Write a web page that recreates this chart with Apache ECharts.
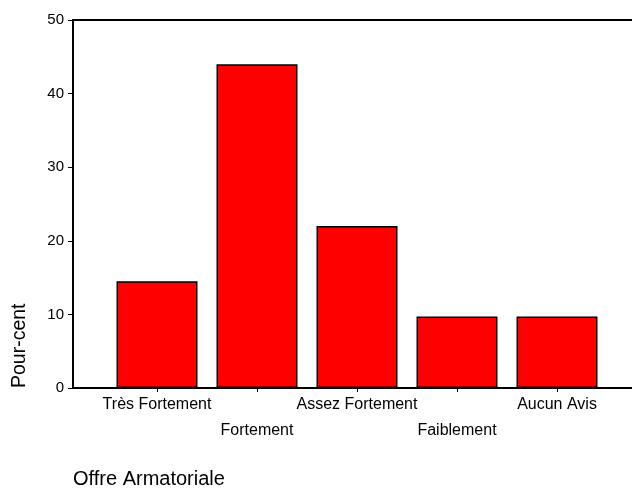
<!DOCTYPE html>
<html>
<head>
<meta charset="utf-8">
<script src="https://cdn.jsdelivr.net/npm/echarts@6/dist/echarts.min.js"></script>
<style>
  html, body { margin: 0; padding: 0; background: #fff; }
  #chart { width: 632px; height: 488px; }
</style>
</head>
<body>
<div id="chart"></div>
<script>
const categories = ['Très Fortement', 'Fortement', 'Assez Fortement', 'Faiblement', 'Aucun Avis']
const percents = [14.5, 44, 22, 9.7, 9.7]
const yTicks = [0, 10, 20, 30, 40, 50]

const font = 'Liberation Sans, Arial, sans-serif'

const chart = echarts.init(document.getElementById('chart'))

const option = {
  animation: false,
  backgroundColor: '#fff',
  textStyle: { fontFamily: font },
  title: {
    text: 'Offre Armatoriale',
    left: 73,
    top: 469,
    padding: 0,
    textStyle: { fontSize: 20, fontWeight: 'normal', color: '#000', fontFamily: font },
  },
  graphic: [
    {
      type: 'text',
      x: 20,
      y: 388,
      rotation: Math.PI / 2,
      style: {
        text: 'Pour-cent',
        fontSize: 19.5,
        fontFamily: font,
        fill: '#000',
        align: 'left',
        verticalAlign: 'middle',
      },
    },
  ],
  grid: [
    // frame: axis lines and y ticks
    { left: 73, right: 0, top: 20, height: 368 },
    // bars: 5 bands of 100px
    { left: 107, width: 500, top: 20, height: 368 },
  ],
  xAxis: [
    {
      gridIndex: 0,
      type: 'value',
      position: 'bottom',
      axisLine: { show: true, onZero: false, lineStyle: { color: '#000', width: 2 } },
      axisTick: { show: false },
      axisLabel: { show: false },
      splitLine: { show: false },
    },
    {
      gridIndex: 0,
      type: 'value',
      position: 'top',
      axisLine: { show: true, onZero: false, lineStyle: { color: '#000', width: 2 } },
      axisTick: { show: false },
      axisLabel: { show: false },
      splitLine: { show: false },
    },
    {
      gridIndex: 1,
      type: 'category',
      data: categories,
      axisLine: { show: false },
      axisTick: {
        show: true,
        alignWithLabel: true,
        length: 4,
        lineStyle: { color: '#000', width: 1 },
      },
      axisLabel: {
        interval: 0,
        margin: 4,
        fontSize: 16,
        lineHeight: 26,
        color: '#000',
        fontFamily: font,
        formatter: (v, i) => (i % 2 === 1 ? '\n' + v : v),
      },
    },
  ],
  yAxis: [
    {
      gridIndex: 0,
      type: 'value',
      min: yTicks[0],
      max: yTicks[yTicks.length - 1],
      interval: 10,
      axisLine: { show: true, lineStyle: { color: '#000', width: 2 } },
      axisTick: { show: true, length: 5, lineStyle: { color: '#000', width: 1 } },
      axisLabel: { margin: 9, fontSize: 15, color: '#000', fontFamily: font },
      splitLine: { show: false },
    },
    {
      gridIndex: 1,
      type: 'value',
      min: yTicks[0],
      max: yTicks[yTicks.length - 1],
      show: false,
    },
  ],
  series: [
    {
      type: 'bar',
      xAxisIndex: 2,
      yAxisIndex: 1,
      data: percents,
      barWidth: 81,
      itemStyle: {
        color: '#ff0000',
        borderColor: '#000',
        borderWidth: 1.5,
      },
    },
  ],
}

chart.setOption(option)
</script>
</body>
</html>
